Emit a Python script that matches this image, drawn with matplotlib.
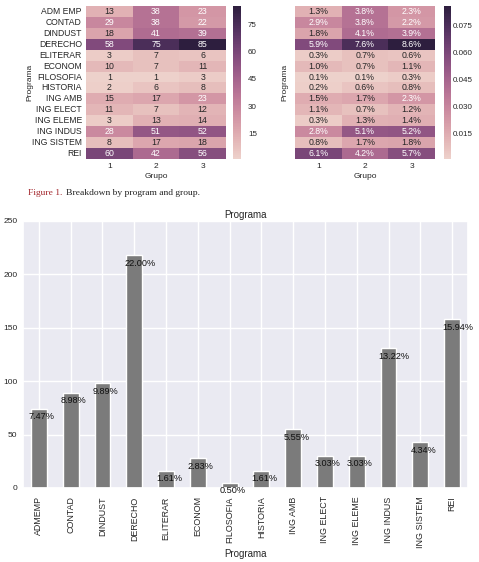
import numpy as np
import seaborn as sns
from matplotlib import pyplot as plt

programas = ["ADM EMP", "CONTAD", "DINDUST", "DERECHO", "ELITERAR", "ECONOM",
             "FILOSOFIA", "HISTORIA", "ING AMB", "ING ELECT", "ING ELEME",
             "ING INDUS", "ING SISTEM", "REI"]
bar_labels = ["ADMEMP", "CONTAD", "DINDUST", "DERECHO", "ELITERAR", "ECONOM",
              "FILOSOFIA", "HISTORIA", "ING AMB", "ING ELECT", "ING ELEME",
              "ING INDUS", "ING SISTEM", "REI"]
grupos = ["1", "2", "3"]
grupo_1 = [13, 29, 18, 58, 3, 10, 1, 2, 15, 11, 3, 28, 8, 60]
grupo_2 = [38, 38, 41, 75, 7, 7, 1, 6, 17, 7, 13, 51, 17, 42]
grupo_3 = [23, 22, 39, 85, 6, 11, 3, 8, 23, 12, 14, 52, 18, 56]

counts = np.array([grupo_1, grupo_2, grupo_3]).T
total = counts.sum()
shares = counts / total
totals = counts.sum(axis=1)

sns.set_theme(style="darkgrid")
plt.rcParams["font.family"] = ["Liberation Sans", "DejaVu Sans"]

W, H = 479, 562
fig = plt.figure(figsize=(W / 100, H / 100), dpi=100)


def px(x0, y0, x1, y1):
    # pixel box (left, top, right, bottom) -> figure fraction rect
    return [x0 / W, 1 - y1 / H, (x1 - x0) / W, (y1 - y0) / H]


cmap = sns.cubehelix_palette(as_cmap=True)

# left heatmap: counts
ax1 = fig.add_axes(px(86, 6, 226, 159))
cax1 = fig.add_axes(px(233, 6, 241, 159))
sns.heatmap(counts, ax=ax1, cbar_ax=cax1, cmap=cmap, annot=True, fmt="d",
            annot_kws={"size": 6.3}, xticklabels=grupos, yticklabels=programas)
ax1.set_xlabel("Grupo", fontsize=6, labelpad=2)
ax1.set_ylabel("Programa", fontsize=6)
ax1.yaxis.set_label_coords(-0.375, 0.5)
ax1.tick_params(axis="y", labelsize=6.2, pad=3, rotation=0, length=0)
ax1.tick_params(axis="x", labelsize=6, pad=3, length=0)
cax1.set_yticks([15, 30, 45, 60, 75])
cax1.tick_params(labelsize=5.8, pad=5, length=0)

# right heatmap: shares of total
ax2 = fig.add_axes(px(295, 6, 435, 159))
cax2 = fig.add_axes(px(444, 6, 451, 159))
sns.heatmap(shares, ax=ax2, cbar_ax=cax2, cmap=cmap, annot=True, fmt=".1%",
            annot_kws={"size": 6.3}, xticklabels=grupos, yticklabels=False)
ax2.set_xlabel("Grupo", fontsize=6, labelpad=2)
ax2.set_ylabel("Programa", fontsize=6)
ax2.yaxis.set_label_coords(-0.045, 0.5)
ax2.tick_params(axis="x", labelsize=6, pad=3, length=0)
ax2.tick_params(axis="y", length=0)
cax2.set_yticks([0.015, 0.030, 0.045, 0.060, 0.075])
cax2.set_yticklabels(["0.015", "0.030", "0.045", "0.060", "0.075"])
cax2.tick_params(labelsize=5.8, pad=1.5, length=0)

# bar chart
ax3 = fig.add_axes(px(23, 221, 468, 488))
x = np.arange(len(bar_labels))
bars = ax3.bar(x, totals, width=0.5, color="#7b7b7b")
ax3.set_xlim(-0.5, len(bar_labels) - 0.5)
ax3.set_ylim(0, 250)
ax3.set_yticks([0, 50, 100, 150, 200, 250])
ax3.set_xticks(x)
ax3.set_xticklabels(bar_labels, rotation=90)
ax3.tick_params(axis="y", labelsize=6, pad=4, length=0)
ax3.tick_params(axis="x", labelsize=6.4, pad=6, length=0)
ax3.set_title("Programa", fontsize=7, pad=2)
ax3.set_xlabel("Programa", fontsize=7, labelpad=1)
for b, n in zip(bars, totals):
    ax3.annotate(f"{100 * n / total:.2f}%", xy=(b.get_x(), b.get_height()),
                 xytext=(-2, -8), textcoords="offset pixels",
                 ha="left", va="center", fontsize=6.6, color="#111111",
                 annotation_clip=False)

# caption
t1 = fig.text(28 / W, 1 - 193 / H, "Figure 1.", family="Liberation Serif",
              fontsize=6.8, color="#a3262c", va="center")
ax3.annotate("Breakdown by program and group.", xy=(1, 0.5), xycoords=t1,
             xytext=(2.5, 0), textcoords="offset points", va="center",
             family="Liberation Serif", fontsize=6.8, color="#222222",
             annotation_clip=False)

fig.savefig("out.png", dpi=100)
